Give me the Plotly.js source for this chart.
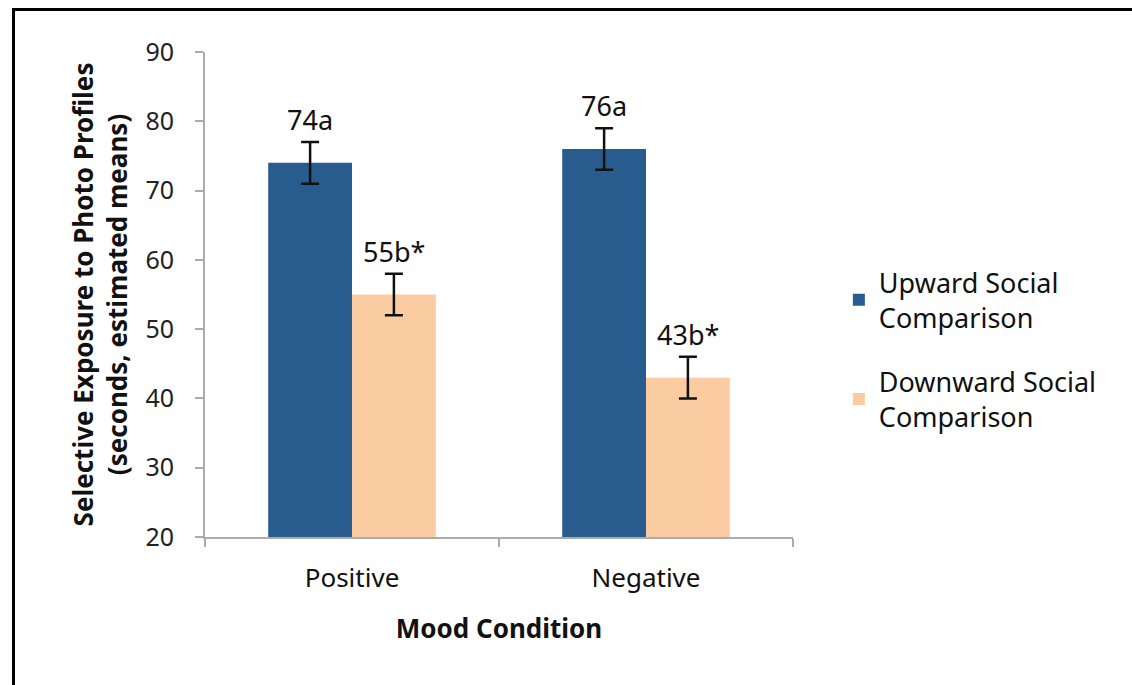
<!DOCTYPE html>
<html>
<head>
<meta charset="utf-8">
<script src="https://cdn.plot.ly/plotly-3.0.1.min.js"></script>
<style>
  html, body { margin: 0; padding: 0; background: #fff; }
  #wrap { position: relative; width: 1132px; height: 685px; overflow: hidden; }
  #chart { position: absolute; left: 0; top: 0; width: 1132px; height: 685px; }
  #frame { position: absolute; left: 12px; top: 8px; width: 1200px; height: 800px;
           border-left: 3px solid #000; border-top: 3px solid #000; pointer-events: none; }
</style>
</head>
<body>
<div id="wrap">
  <div id="chart"></div>
  <div id="frame"></div>
</div>
<script>
// ---- data ----
const categories = ["Positive", "Negative"];
const seriesNames = ["Upward Social<br>Comparison", "Downward Social<br>Comparison"];
const upwardValues = [74, 76];
const downwardValues = [55, 43];
const upwardErrors = [3, 3];
const downwardErrors = [3, 3];
const upwardLabels = ["74a", "76a"];
const downwardLabels = ["55b*", "43b*"];
const yTickValues = [20, 30, 40, 50, 60, 70, 80, 90];

// ---- styles ----
const FONT = "Noto Sans, Open Sans, sans-serif";
const colors = ["#285C8F", "#FBCBA1"];
const bargap = 0.43;

const series = [
  {values: upwardValues, errors: upwardErrors, labels: upwardLabels},
  {values: downwardValues, errors: downwardErrors, labels: downwardLabels}
];

const traces = series.map((s, j) => ({
  type: "bar",
  name: seriesNames[j],
  legendgroup: "g" + j,
  x: categories,
  y: s.values,
  marker: {color: colors[j]},
  error_y: {type: "data", array: s.errors, visible: true, color: "#111111", thickness: 2.5, width: 9},
  hoverinfo: "x+y"
}));

const annotations = [];
const groupWidth = 1 - bargap;
series.forEach((s, j) => {
  s.values.forEach((v, i) => {
    annotations.push({
      x: i + (j - 0.5) * groupWidth / 2,
      xref: "x",
      y: v + s.errors[i],
      yref: "y",
      yanchor: "bottom",
      yshift: 2,
      text: s.labels[i],
      showarrow: false,
      font: {family: FONT, size: 27, color: "#111"}
    });
  });
});

const layout = {
  width: 1132,
  height: 685,
  margin: {l: 205, r: 339, t: 52, b: 148},
  paper_bgcolor: "#ffffff",
  plot_bgcolor: "#ffffff",
  barmode: "group",
  bargap: bargap,
  bargroupgap: 0,
  showlegend: true,
  legend: {
    x: 1.078, xanchor: "left",
    y: 0.575, yanchor: "top",
    font: {family: FONT, size: 27, color: "#111"},
    tracegroupgap: 26,
    bgcolor: "rgba(0,0,0,0)"
  },
  xaxis: {
    type: "category",
    range: [-0.5, 1.5],
    showline: true, linecolor: "#ABABAB", linewidth: 2,
    ticks: "outside", tickson: "boundaries", ticklen: 8, tickcolor: "#ABABAB", tickwidth: 2,
    showgrid: false, zeroline: false,
    tickfont: {family: FONT, size: 26, color: "#111"},
    ticklabelstandoff: 17,
    title: {text: "Mood Condition", font: {family: FONT, size: 26, color: "#111", weight: 700}, standoff: 26}
  },
  yaxis: {
    range: [20, 90],
    tickvals: yTickValues,
    showline: true, linecolor: "#ABABAB", linewidth: 2,
    ticks: "outside", ticklen: 8, tickcolor: "#ABABAB", tickwidth: 2,
    showgrid: false, zeroline: false,
    tickfont: {family: FONT, size: 25, color: "#222"},
    ticklabelstandoff: 16,
    title: {text: "Selective Exposure to Photo Profiles<br>(seconds, estimated means)",
            font: {family: FONT, size: 26, color: "#111", weight: 700}, standoff: 10}
  },
  annotations: annotations
};

Plotly.newPlot("chart", traces, layout, {displayModeBar: false, staticPlot: true});
</script>
</body>
</html>
